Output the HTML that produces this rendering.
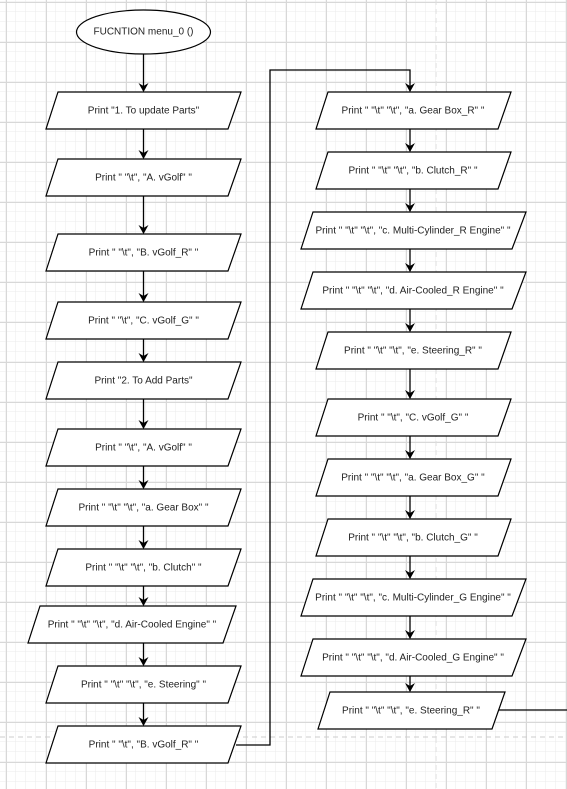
<!DOCTYPE html>
<html><head><meta charset="utf-8"><style>
html,body{margin:0;padding:0;background:#fff}
svg{display:block}
text{font-family:"Liberation Sans",Arial,sans-serif;font-size:10px;fill:#222;text-anchor:middle;dominant-baseline:middle}
</style></head><body>
<svg width="567" height="789" viewBox="0 0 567 789" xmlns="http://www.w3.org/2000/svg">
<defs>
<pattern id="g" width="10" height="10" patternUnits="userSpaceOnUse"><path d="M10 0V10M0 10H10" fill="none" stroke="#ebebeb" stroke-width="1"/></pattern>
<pattern id="G" width="40" height="40" patternUnits="userSpaceOnUse" x="6" y="2"><rect width="40" height="40" fill="url(#g)"/><path d="M0 0.5H40M0.5 0V40" fill="none" stroke="#d8d8d8" stroke-width="1"/></pattern>
<marker id="a" markerWidth="10" markerHeight="10" refX="8" refY="5" orient="auto" markerUnits="userSpaceOnUse"><path d="M0 0L9 5L0 10L3 5Z" fill="#000"/></marker>
</defs>
<rect width="567" height="789" fill="url(#G)"/>
<line x1="0" y1="737" x2="567" y2="737" stroke="#ccc" stroke-dasharray="5,4"/>
<line x1="436" y1="0" x2="436" y2="789" stroke="#ddd" stroke-dasharray="5,4"/>
<g fill="#fff" stroke="#000" stroke-width="1.2">
<ellipse cx="143.5" cy="32" rx="67" ry="22"/>
<!-- left column -->
<polygon points="58,92 241,92 228,129 46,129"/>
<polygon points="58,159 241,159 228,196 46,196"/>
<polygon points="58,234 241,234 228,271 46,271"/>
<polygon points="58,302 241,302 228,339 46,339"/>
<polygon points="58,362 241,362 228,399 46,399"/>
<polygon points="58,429 241,429 228,466 46,466"/>
<polygon points="58,489 241,489 228,526 46,526"/>
<polygon points="58,549 241,549 228,586 46,586"/>
<polygon points="40,606 236,606 223,643 28,643"/>
<polygon points="58,666 241,666 228,703 46,703"/>
<polygon points="58,726 241,726 228,763 46,763"/>
<!-- right column -->
<polygon points="328,92 511,92 498,129 316,129"/>
<polygon points="328,152 511,152 498,189 316,189"/>
<polygon points="313,212 526,212 512,249 301,249"/>
<polygon points="313,272 526,272 512,309 301,309"/>
<polygon points="328,332 511,332 498,369 316,369"/>
<polygon points="328,399 511,399 498,436 316,436"/>
<polygon points="328,459 511,459 498,496 316,496"/>
<polygon points="328,519 511,519 498,556 316,556"/>
<polygon points="313,579 526,579 512,616 301,616"/>
<polygon points="313,639 526,639 512,676 301,676"/>
<polygon points="330,692 505,692 492,729 318,729"/>
</g>
<g stroke="#000" stroke-width="1.3" fill="none">
<line x1="143.5" y1="54" x2="143.5" y2="91" marker-end="url(#a)"/>
<line x1="143.5" y1="129" x2="143.5" y2="158" marker-end="url(#a)"/>
<line x1="143.5" y1="196" x2="143.5" y2="233" marker-end="url(#a)"/>
<line x1="143.5" y1="271" x2="143.5" y2="301" marker-end="url(#a)"/>
<line x1="143.5" y1="339" x2="143.5" y2="361" marker-end="url(#a)"/>
<line x1="143.5" y1="399" x2="143.5" y2="428" marker-end="url(#a)"/>
<line x1="143.5" y1="466" x2="143.5" y2="488" marker-end="url(#a)"/>
<line x1="143.5" y1="526" x2="143.5" y2="548" marker-end="url(#a)"/>
<line x1="143.5" y1="586" x2="143.5" y2="605" marker-end="url(#a)"/>
<line x1="143.5" y1="643" x2="143.5" y2="665" marker-end="url(#a)"/>
<line x1="143.5" y1="703" x2="143.5" y2="725" marker-end="url(#a)"/>
<polyline points="236,745 270,745 270,70 410,70 410,91" marker-end="url(#a)"/>
<line x1="410" y1="129" x2="410" y2="151" marker-end="url(#a)"/>
<line x1="410" y1="189" x2="410" y2="211" marker-end="url(#a)"/>
<line x1="410" y1="249" x2="410" y2="271" marker-end="url(#a)"/>
<line x1="410" y1="309" x2="410" y2="331" marker-end="url(#a)"/>
<line x1="410" y1="369" x2="410" y2="398" marker-end="url(#a)"/>
<line x1="410" y1="436" x2="410" y2="458" marker-end="url(#a)"/>
<line x1="410" y1="496" x2="410" y2="518" marker-end="url(#a)"/>
<line x1="410" y1="556" x2="410" y2="578" marker-end="url(#a)"/>
<line x1="410" y1="616" x2="410" y2="638" marker-end="url(#a)"/>
<line x1="410" y1="676" x2="410" y2="691" marker-end="url(#a)"/>
<line x1="499" y1="710" x2="567" y2="710"/>
</g>
<g>
<text x="143.5" y="32">FUCNTION menu_0 ()</text>
<text x="143.5" y="111">Print "1. To update Parts"</text>
<text x="143.5" y="178">Print " "\t", "A. vGolf" "</text>
<text x="143.5" y="253">Print " "\t", "B. vGolf_R" "</text>
<text x="143.5" y="321">Print " "\t", "C. vGolf_G" "</text>
<text x="143.5" y="381">Print "2. To Add Parts"</text>
<text x="143.5" y="448">Print " "\t", "A. vGolf" "</text>
<text x="143.5" y="508">Print " "\t" "\t", "a. Gear Box" "</text>
<text x="143.5" y="568">Print " "\t" "\t", "b. Clutch" "</text>
<text x="132" y="625">Print " "\t" "\t", "d. Air-Cooled Engine" "</text>
<text x="143.5" y="685">Print " "\t" "\t", "e. Steering" "</text>
<text x="143.5" y="745">Print " "\t", "B. vGolf_R" "</text>
<text x="413" y="111">Print " "\t" "\t", "a. Gear Box_R" "</text>
<text x="413" y="171">Print " "\t" "\t", "b. Clutch_R" "</text>
<text x="413" y="231">Print " "\t" "\t", "c. Multi-Cylinder_R Engine" "</text>
<text x="413" y="291">Print " "\t" "\t", "d. Air-Cooled_R Engine" "</text>
<text x="413" y="351">Print " "\t" "\t", "e. Steering_R" "</text>
<text x="413" y="418">Print " "\t", "C. vGolf_G" "</text>
<text x="413" y="478">Print " "\t" "\t", "a. Gear Box_G" "</text>
<text x="413" y="538">Print " "\t" "\t", "b. Clutch_G" "</text>
<text x="413" y="598">Print " "\t" "\t", "c. Multi-Cylinder_G Engine" "</text>
<text x="413" y="658">Print " "\t" "\t", "d. Air-Cooled_G Engine" "</text>
<text x="411" y="711">Print " "\t" "\t", "e. Steering_R" "</text>
</g>
</svg>
</body></html>
